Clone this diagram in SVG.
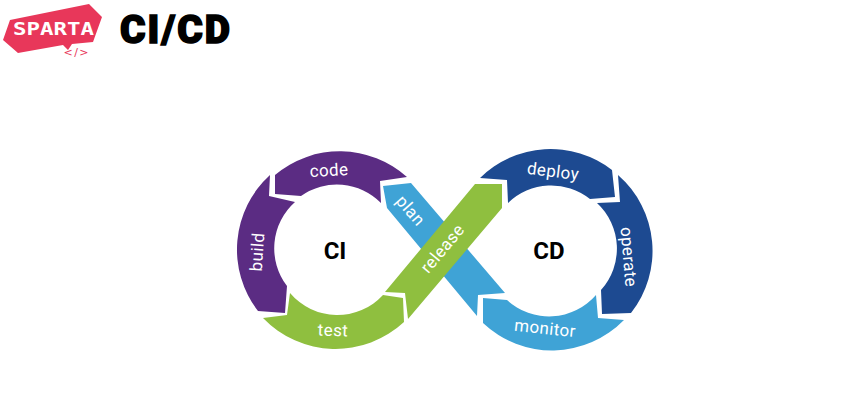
<svg xmlns="http://www.w3.org/2000/svg" width="850" height="418" viewBox="0 0 850 418">
<style>
.lbl{font-family:Roboto,"Liberation Sans",sans-serif;font-size:17px;font-weight:400;fill:#fff;text-anchor:middle;letter-spacing:.4px}
.big{font-family:Roboto,"Liberation Sans",sans-serif;font-size:24px;font-weight:700;fill:#000;text-anchor:middle}
.purple{fill:#5b2c83}.green{fill:#8fbf3f}.sky{fill:#3fa3d6}.navy{fill:#1d4a91}
</style>
<rect width="850" height="418" fill="#fff"/>
<g id="logo">
<path d="M10 20L89 4L102 17L93 42L72 44L68 50L63 45L18 53L3 40Z" fill="#e8375a"/>
<text x="53.500" y="35" font-family="'DejaVu Sans Mono',monospace" font-weight="700" font-size="17" fill="#fff" text-anchor="middle" textLength="81" lengthAdjust="spacingAndGlyphs">SPARTA</text>
<text x="76" y="56" font-family="'DejaVu Sans',sans-serif" font-size="11" fill="#e8375a" text-anchor="middle" textLength="25" lengthAdjust="spacing">&lt;/&gt;</text>
</g>
<g id="title">
<text x="120" y="43" font-family="Roboto,'Liberation Sans',sans-serif" font-weight="900" font-size="39" fill="#000" stroke="#000" stroke-width="1.500" textLength="110" lengthAdjust="spacing">CI/CD</text>
</g>
<g id="plan">
<path class="sky" d="M383 186L411 183L505 293L478 295L477 316L387 208Z"/>
<text class="lbl" transform="translate(410 211) rotate(49)" y="5">plan</text>
</g>
<g id="code">
<path class="purple" d="M275 175A100.500 100.500 0 0 1 407 177L380 181L381 203A62 62 0 0 0 301 196L275 194Z"/>
<text class="lbl" transform="translate(329 171) rotate(-3)" y="5">code</text>
</g>
<g id="build">
<path class="purple" d="M270 175A100.500 100.500 0 0 0 258 311L285 313L287 286A62 62 0 0 1 295 202L269 196Z"/>
<text class="lbl" transform="translate(258 252) rotate(-86)" y="5">build</text>
</g>
<g id="test">
<path class="green" d="M263 318L287 315L290 293A62 62 0 0 0 383 295L403 298L404 322A100.500 100.500 0 0 1 263 318Z"/>
<text class="lbl" transform="translate(333 331) rotate(2)" y="5">test</text>
</g>
<g id="release">
<path class="green" d="M385 292L405 293L408 319L502 208L502 184L475 184Z"/>
<text class="lbl" transform="translate(443 249) rotate(-50)" y="5">release</text>
</g>
<g id="deploy">
<path class="navy" d="M480 178A100.500 100.500 0 0 1 612 170L615 197L590 199A62 62 0 0 0 508 203L507 180Z"/>
<text class="lbl" transform="translate(553 172) rotate(7)" y="5">deploy</text>
</g>
<g id="operate">
<path class="navy" d="M618 175A100.500 100.500 0 0 1 631 313L602 314L601 290A62 62 0 0 0 597 203L620 202Z"/>
<text class="lbl" transform="translate(628 257) rotate(85)" y="5">operate</text>
</g>
<g id="monitor">
<path class="sky" d="M483 298L507 300A62 62 0 0 0 596 295L598 318L624 320A100.500 100.500 0 0 1 483 323Z"/>
<text class="lbl" transform="translate(545 329) rotate(6)" y="5">monitor</text>
</g>
<g id="ci"><text class="big" x="335" y="259">CI</text></g>
<g id="cd"><text class="big" x="549" y="259">CD</text></g>
</svg>
